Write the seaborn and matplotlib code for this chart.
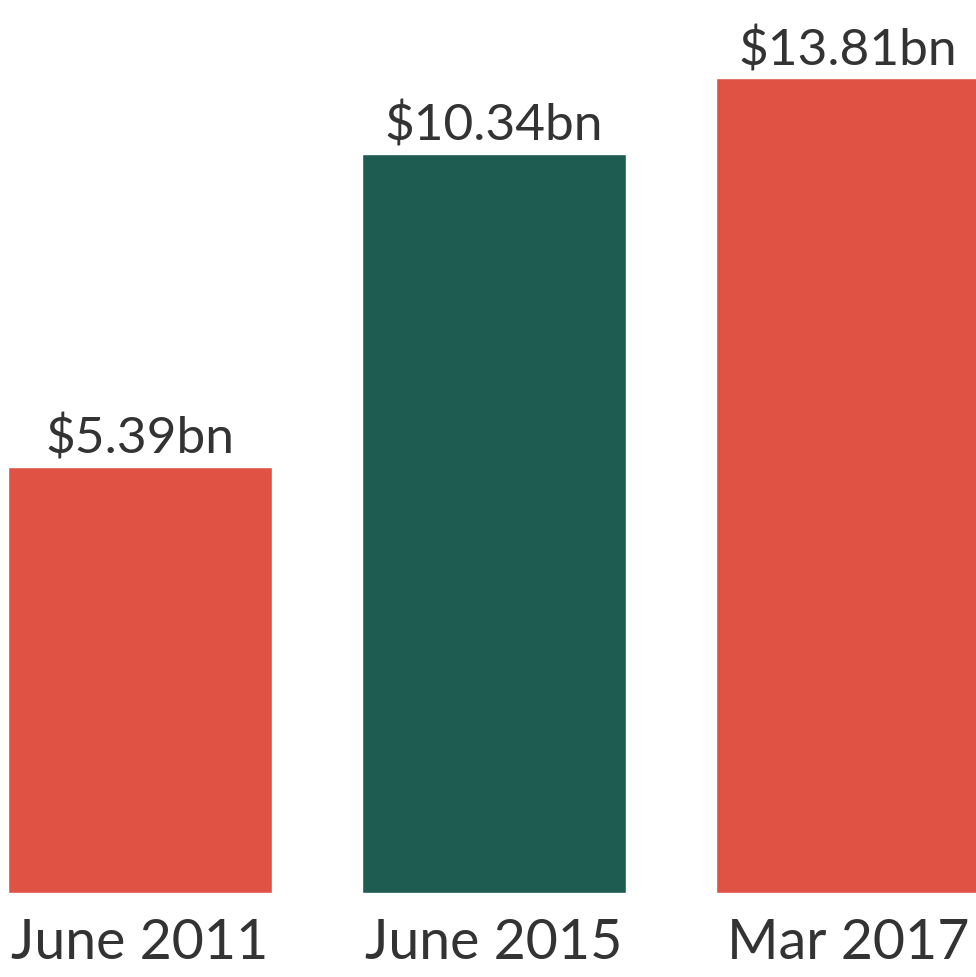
import numpy as np
import seaborn as sns
import matplotlib.pyplot as plt
import pandas as pd

# data
periods = ["June 2011", "June 2015", "Mar 2017"]
value_labels = ["$5.39bn", "$10.34bn", "$13.81bn"]
bar_heights = [5.39, 9.35, 10.31]  # drawn bar heights (not proportional in the original)
bar_colors = ["#E05243", "#1E5C52", "#E05243"]

df = pd.DataFrame({"period": periods, "height": bar_heights})

sns.set_theme(style="white")
plt.rcParams['font.family'] = ['Lato', 'DejaVu Sans']

fig = plt.figure(figsize=(9.76, 9.77), dpi=100)
ax = fig.add_axes([0, 84 / 977, 1, 893 / 977])

sns.barplot(data=df, x="period", y="height", hue="period", palette=bar_colors,
            width=0.746, saturation=1, legend=False, ax=ax)

# one label above each bar
bars = sorted(ax.patches, key=lambda p: p.get_x())
for bar, lab in zip(bars, value_labels):
    ax.annotate(lab, (bar.get_x() + bar.get_width() / 2, bar.get_height()),
                xytext=(0, 3), textcoords="offset points",
                ha="center", va="bottom", fontsize=37, color="#333333")

ax.set_xlim(-140 / 354, 836 / 354)
ax.set_ylim(0, 893 / 79.03)
ax.set_xlabel("")
ax.set_ylabel("")
ax.set_yticks([])
ax.tick_params(axis="x", length=0, pad=18, labelsize=40, labelcolor="#333333")
sns.despine(ax=ax, left=True, bottom=True)

fig.savefig("out.png", dpi=100, facecolor="white")
